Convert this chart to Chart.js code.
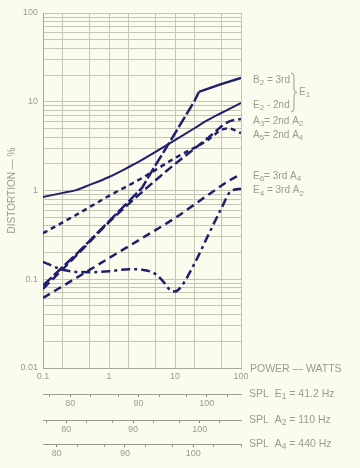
<!DOCTYPE html>
<html>
<head>
<meta charset="utf-8">
<script src="https://cdn.jsdelivr.net/npm/chart.js@4"></script>
<style>
  html, body { margin: 0; padding: 0; background: #fcfcee; }
  #wrap { width: 360px; height: 468px; }
</style>
</head>
<body>
<div id="wrap"><canvas id="distortionChart" width="360" height="468"></canvas></div>
<script>
// power axis (watts) gridlines and labelled decades
const powerGrid = [0.1, 0.2, 0.5, 1, 2, 5, 10, 20, 50, 100];
const powerLabels = [0.1, 1, 10, 100];

// distortion axis (%) gridlines and labelled decades
const distortionGrid = [
  0.01, 0.02, 0.03, 0.04, 0.05, 0.06, 0.07, 0.08, 0.09,
  0.1, 0.2, 0.3, 0.4, 0.5, 0.6, 0.7, 0.8, 0.9,
  1, 2, 3, 4, 5, 6, 7, 8, 9,
  10, 20, 30, 40, 50, 60, 70, 80, 90,
  100
];
const distortionLabels = [0.01, 0.1, 1, 10, 100];

// SPL scales under the power axis (dB)
const splTicks = [77, 80, 83, 87, 90, 93, 97, 100, 103, 107];
const splLabels = [80, 90, 100];

// curves: power (W) / distortion (%)
const b2Power = [0.1, 0.316, 1, 3.16, 5, 10, 20, 23, 50, 100];
const b2Dist  = [0.085, 0.19, 0.45, 1.07, 1.9, 4.4, 10.4, 12.9, 15.8, 18.6];

const e2Power = [0.1, 0.2, 0.316, 0.5, 1, 2, 3.16, 5, 10, 20, 31.6, 50, 100];
const e2Dist  = [0.845, 0.94, 1.01, 1.15, 1.42, 1.84, 2.21, 2.71, 3.7, 5.06, 6.23, 7.47, 9.69];

const a3Power = [0.1, 0.316, 1, 3.16, 10, 31.6, 63, 100];
const a3Dist  = [0.078, 0.183, 0.44, 0.96, 1.99, 3.9, 5.9, 6.4];

const a5Power = [0.1, 0.316, 1, 3.16, 10, 31.6, 50, 65, 100];
const a5Dist  = [0.33, 0.53, 0.87, 1.38, 2.32, 3.71, 4.8, 5.0, 4.44];

const e6Power = [0.1, 0.316, 1, 3.16, 10, 31.6, 68, 100];
const e6Dist  = [0.0615, 0.103, 0.173, 0.29, 0.49, 0.89, 1.31, 1.53];

const e4Power = [0.1, 0.2, 0.5, 1, 2, 3.16, 5, 7, 8.5, 10, 12, 20, 31.6, 50, 70, 100];
const e4Dist  = [0.157, 0.128, 0.12, 0.123, 0.13, 0.128, 0.115, 0.09, 0.075, 0.073, 0.08, 0.153, 0.31, 0.62, 0.98, 1.05];

const textColor = '#9a9a8e';
const gridColor = '#c6c6b8';
const inkColor = '#1f1f6e';
const fontFamily = "'Liberation Sans', Arial, sans-serif";

const toPoints = (xs, ys) => xs.map((x, i) => ({ x: x, y: ys[i] }));

// draws text where "_" makes the next character a subscript
function drawRich(ctx, text, x, y, size) {
  const parts = text.split(/(_.)/).filter(p => p.length);
  let cx = x;
  parts.forEach(p => {
    if (p[0] === '_') {
      ctx.font = (size * 0.8) + 'px ' + fontFamily;
      ctx.fillText(p[1], cx, y + size * 0.28);
      cx += ctx.measureText(p[1]).width;
    } else {
      ctx.font = size + 'px ' + fontFamily;
      ctx.fillText(p, cx, y);
      cx += ctx.measureText(p).width;
    }
  });
  return cx;
}

const annotate = {
  id: 'annotate',
  afterDraw(chart) {
    const { ctx, chartArea, scales } = chart;
    ctx.save();
    ctx.fillStyle = textColor;
    ctx.strokeStyle = textColor;
    ctx.textBaseline = 'middle';
    ctx.textAlign = 'left';

    // curve labels next to the end of each line
    const labelY = [];
    chart.data.datasets.forEach((ds, i) => {
      const pts = chart.getDatasetMeta(i).data;
      const y = pts[pts.length - 1].y + 2;
      labelY.push(y);
      drawRich(ctx, ds.label, chartArea.right + 12, y, 10);
    });

    // brace grouping the two E1 curves
    const top = labelY[0] - 7, bot = labelY[1] + 7, mid = (top + bot) / 2;
    const bx = chartArea.right + 50;
    ctx.lineWidth = 1;
    ctx.beginPath();
    ctx.moveTo(bx, top);
    ctx.quadraticCurveTo(bx + 3, top, bx + 3, top + 4);
    ctx.lineTo(bx + 3, mid - 3);
    ctx.quadraticCurveTo(bx + 3, mid, bx + 6, mid);
    ctx.quadraticCurveTo(bx + 3, mid, bx + 3, mid + 3);
    ctx.lineTo(bx + 3, bot - 4);
    ctx.quadraticCurveTo(bx + 3, bot, bx, bot);
    ctx.stroke();
    drawRich(ctx, 'E_1', bx + 8, mid, 10);

    // axis titles on the right
    ctx.font = '10.5px ' + fontFamily;
    ctx.fillText('POWER — WATTS', chartArea.right + 9, scales.x.top + 1);
    drawRich(ctx, 'SPL  E_1 = 41.2 Hz', chartArea.right + 8, scales.e1.top, 10.5);
    drawRich(ctx, 'SPL  A_2 = 110 Hz', chartArea.right + 8, scales.a2.top, 10.5);
    drawRich(ctx, 'SPL  A_4 = 440 Hz', chartArea.right + 8, scales.a4.top, 10.5);
    ctx.restore();
  }
};

function splScale(min, max, weight) {
  return {
    type: 'linear', position: 'bottom', weight: weight, min: min, max: max,
    afterBuildTicks: s => { s.ticks = splTicks.filter(v => v >= min && v <= max).map(v => ({ value: v })); },
    afterFit: s => { s.height = weight === 1 ? 26 : 24; },
    grid: {
      drawOnChartArea: false, drawTicks: true, tickLength: 3, lineWidth: 1,
      tickColor: c => splLabels.includes(c.tick && c.tick.value) ? '#7e7e74' : textColor
    },
    border: { display: true, color: textColor, width: 1 },
    ticks: {
      autoSkip: false, maxRotation: 0, padding: 1, color: textColor,
      font: { size: 9, family: fontFamily },
      callback: v => splLabels.includes(v) ? String(v) : ''
    }
  };
}

const lineStyle = (label, xs, ys, dash, extra) => Object.assign({
  label: label,
  data: toPoints(xs, ys),
  borderColor: inkColor,
  borderWidth: 2.5,
  borderDash: dash,
  pointRadius: 0,
  fill: false,
  cubicInterpolationMode: 'monotone'
}, extra || {});

new Chart(document.getElementById('distortionChart'), {
  type: 'line',
  data: {
    datasets: [
      lineStyle('B_2 = 3rd', b2Power, b2Dist, [12, 3], {
        tension: 0, cubicInterpolationMode: 'default',
        segment: { borderDash: c => c.p0.parsed.x >= 23 ? [] : [12, 3] }
      }),
      lineStyle('E_2 - 2nd', e2Power, e2Dist, [], { borderWidth: 2 }),
      lineStyle('A_3= 2nd A_2', a3Power, a3Dist, [9, 4]),
      lineStyle('A_5= 2nd A_4', a5Power, a5Dist, [5, 4]),
      lineStyle('E_6= 3rd A_4', e6Power, e6Dist, [8, 5]),
      lineStyle('E_4 = 3rd A_2', e4Power, e4Dist, [9, 4, 3, 4])
    ]
  },
  options: {
    responsive: false,
    animation: false,
    devicePixelRatio: 1,
    layout: { padding: { top: 13, right: 119, bottom: 0, left: 0 } },
    plugins: { legend: { display: false }, tooltip: { enabled: false } },
    scales: {
      x: {
        type: 'logarithmic', position: 'bottom', weight: 0, min: 0.1, max: 100,
        afterBuildTicks: s => { s.ticks = powerGrid.map(v => ({ value: v })); },
        afterFit: s => { s.height = 26; },
        grid: { color: gridColor, lineWidth: 1, drawTicks: false },
        border: { color: '#a8a89c' },
        ticks: {
          autoSkip: false, maxRotation: 0, padding: 3, color: textColor,
          font: { size: 9, family: fontFamily },
          callback: v => powerLabels.includes(v) ? String(v) : ''
        }
      },
      e1: splScale(76, 105, 1),
      a2: splScale(76.5, 106.2, 2),
      a4: splScale(78, 107, 3),
      y: {
        type: 'logarithmic', position: 'left', min: 0.01, max: 100,
        afterBuildTicks: s => { s.ticks = distortionGrid.map(v => ({ value: v })); },
        afterFit: s => { s.width = 43; },
        grid: { color: gridColor, lineWidth: 1, drawTicks: false },
        border: { color: '#a8a89c' },
        title: {
          display: true, text: 'DISTORTION — %', color: textColor,
          font: { size: 10, family: fontFamily }, padding: { top: 6, bottom: 0 }
        },
        ticks: {
          autoSkip: false, padding: 5, color: textColor,
          font: { size: 9, family: fontFamily },
          callback: v => distortionLabels.includes(v) ? String(v) : ''
        }
      }
    }
  },
  plugins: [annotate]
});
</script>
</body>
</html>
